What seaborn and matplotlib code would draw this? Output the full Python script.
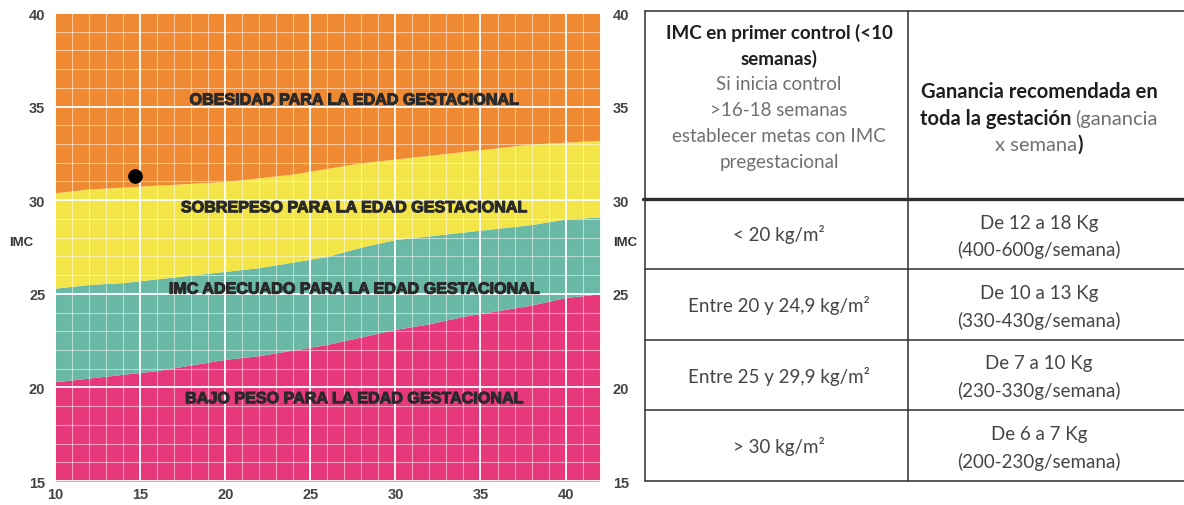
import matplotlib
matplotlib.use("Agg")
import matplotlib.pyplot as plt
import matplotlib.patheffects as pe
import seaborn as sns
import pandas as pd
from matplotlib.ticker import MultipleLocator

# semanas de gestacion y limites superiores de cada banda de IMC
semanas = [10, 12, 14, 16, 18, 20, 22, 24, 26, 28, 30, 32, 34, 36, 38, 40, 42]
lim_bajo_peso = [20.3, 20.5, 20.7, 20.9, 21.2, 21.5, 21.7, 22.0, 22.3, 22.7, 23.1, 23.4, 23.8, 24.1, 24.4, 24.8, 25.0]
lim_adecuado = [25.3, 25.5, 25.6, 25.8, 26.0, 26.2, 26.4, 26.7, 27.0, 27.5, 27.9, 28.1, 28.3, 28.5, 28.7, 29.0, 29.1]
lim_sobrepeso = [30.4, 30.6, 30.7, 30.8, 30.9, 31.0, 31.2, 31.4, 31.7, 32.0, 32.2, 32.4, 32.6, 32.8, 33.0, 33.1, 33.2]

etiquetas = ["OBESIDAD PARA LA EDAD GESTACIONAL", "SOBREPESO PARA LA EDAD GESTACIONAL",
             "IMC ADECUADO PARA LA EDAD GESTACIONAL", "BAJO PESO PARA LA EDAD GESTACIONAL"]
etiqueta_y = [35.35, 29.6, 25.25, 19.4]

paciente_semana = [14.7]
paciente_imc = [31.3]

# tabla
encabezado_izq = ["IMC en primer control (<10", "semanas)", "Si inicia control", ">16-18 semanas",
                  "establecer metas con IMC", "pregestacional"]
imc_rangos = ["< 20 kg/m²", "Entre 20 y 24,9 kg/m²", "Entre 25 y 29,9 kg/m²", "> 30 kg/m²"]
ganancia_total = ["De 12 a 18 Kg", "De 10 a 13 Kg", "De 7 a 10 Kg", "De 6 a 7 Kg"]
ganancia_semana = ["(400-600g/semana)", "(330-430g/semana)", "(230-330g/semana)", "(200-230g/semana)"]

sns.set_style("white")
plt.rcParams['font.family'] = ['Liberation Sans', 'DejaVu Sans']

c_obes, c_sobre, c_adec, c_bajo = "#F08A32", "#F3E548", "#69B9A6", "#E8387C"

fig = plt.figure(figsize=(11.84, 5.06), dpi=100)
ax = fig.add_axes([0.0465, 0.0474, 0.4628, 0.9249])

df = pd.DataFrame({"semana": semanas, "bajo": lim_bajo_peso, "adec": lim_adecuado, "sobre": lim_sobrepeso})
ax.fill_between(df.semana, 15, df.bajo, color=c_bajo, lw=0, zorder=1)
ax.fill_between(df.semana, df.bajo, df.adec, color=c_adec, lw=0, zorder=1)
ax.fill_between(df.semana, df.adec, df.sobre, color=c_sobre, lw=0, zorder=1)
ax.fill_between(df.semana, df.sobre, 40, color=c_obes, lw=0, zorder=1)

ax.set_xlim(10, 42.2)
ax.set_ylim(15, 40)
ax.xaxis.set_major_locator(MultipleLocator(5))
ax.yaxis.set_major_locator(MultipleLocator(5))
ax.xaxis.set_minor_locator(MultipleLocator(1))
ax.yaxis.set_minor_locator(MultipleLocator(1))
ax.set_axisbelow(False)
ax.grid(which="major", color="white", lw=1.4, alpha=0.95)
ax.grid(which="minor", color="white", lw=0.8, alpha=0.5)
for s in ax.spines.values():
    s.set_visible(False)
ax.tick_params(which="both", length=0)
ax.tick_params(axis="y", labelleft=True, labelright=True, pad=7)
ax.tick_params(axis="x", pad=4)
for lab in ax.get_xticklabels() + ax.get_yticklabels():
    lab.set_fontweight("bold")
    lab.set_fontsize(10.5)
    lab.set_color("#444444")
ax.set_xlabel("")
ax.set_ylabel("")
ax.text(-0.083, 0.51, "IMC", transform=ax.transAxes, fontsize=9.5, fontweight="bold",
        color="#333333", va="center", ha="left")
ax.text(1.018, 0.51, "IMC", transform=ax.transAxes, fontsize=9.5, fontweight="bold",
        color="#333333", va="center", ha="left")

for txt, yv in zip(etiquetas, etiqueta_y):
    ax.text(27.6, yv, txt, ha="center", va="center", fontsize=11.6, fontweight="bold",
            color="#2a2a2a", zorder=4,
            path_effects=[pe.withStroke(linewidth=0.8, foreground="#2a2a2a")])

sns.scatterplot(x=paciente_semana, y=paciente_imc, color="black", s=95, marker="o",
                edgecolor="black", ax=ax, zorder=5, legend=False)

# ----- tabla (coordenadas en pixeles) -----
tab = fig.add_axes([0, 0, 1, 1])
tab.set_xlim(0, 1184)
tab.set_ylim(506, 0)
tab.axis("off")

fam = ["Lato", "DejaVu Sans"]
linea = "#2e2e2e"
x0, xm, x1 = 645, 908, 1184
filas = [200, 270, 341, 411, 482]
tab.plot([x0, x1], [12, 12], color=linea, lw=1.1)
tab.plot([x0 - 2, x1], [200, 200], color=linea, lw=2.4)
for yv in filas[1:]:
    tab.plot([x0, x1], [yv, yv], color=linea, lw=1.1)
tab.plot([x0, x0], [12, 482], color=linea, lw=1.1)
tab.plot([xm, xm], [12, 482], color=linea, lw=1.1)

cx_izq, cx_der = 779, 1039
fs = 13.5
oscuro, gris, cuerpo = "#1e1e1e", "#707070", "#454545"

for i, t in enumerate(encabezado_izq):
    tab.text(cx_izq, 33 + 25.8 * i, t, ha="center", va="center", fontsize=fs, family=fam,
             fontweight="bold" if i < 2 else "normal", color=oscuro if i < 2 else gris)

renderer = fig.canvas.get_renderer()


def linea_mixta(xc, y, partes, gap=4, size=fs):
    objs = [tab.text(0, y, s, ha="left", va="center", fontsize=size, family=fam,
                     fontweight=w, color=c) for s, w, c in partes]
    inv = tab.transData.inverted()
    anchos = []
    for o in objs:
        bb = o.get_window_extent(renderer)
        p0 = inv.transform((bb.x0, 0))[0]
        p1 = inv.transform((bb.x1, 0))[0]
        anchos.append(p1 - p0)
    total = sum(anchos) + gap * (len(objs) - 1)
    x = xc - total / 2
    for o, w in zip(objs, anchos):
        o.set_x(x)
        x += w + gap


linea_mixta(cx_der, 92, [("Ganancia recomendada en", "bold", oscuro)], size=14.5)
linea_mixta(cx_der, 118.5, [("toda la gestación", "bold", oscuro), ("(ganancia", "normal", gris)], size=14.5)
linea_mixta(cx_der, 145, [("x semana", "normal", gris), (")", "bold", oscuro)], gap=1, size=14.5)

for i in range(len(imc_rangos)):
    yc = (filas[i] + filas[i + 1]) / 2
    tab.text(cx_izq, yc, imc_rangos[i], ha="center", va="center", fontsize=fs, family=fam, color=cuerpo)
    tab.text(cx_der, yc - 12, ganancia_total[i], ha="center", va="center", fontsize=fs, family=fam, color=cuerpo)
    tab.text(cx_der, yc + 15, ganancia_semana[i], ha="center", va="center", fontsize=fs, family=fam, color=cuerpo)

fig.savefig("out.png", dpi=100)
